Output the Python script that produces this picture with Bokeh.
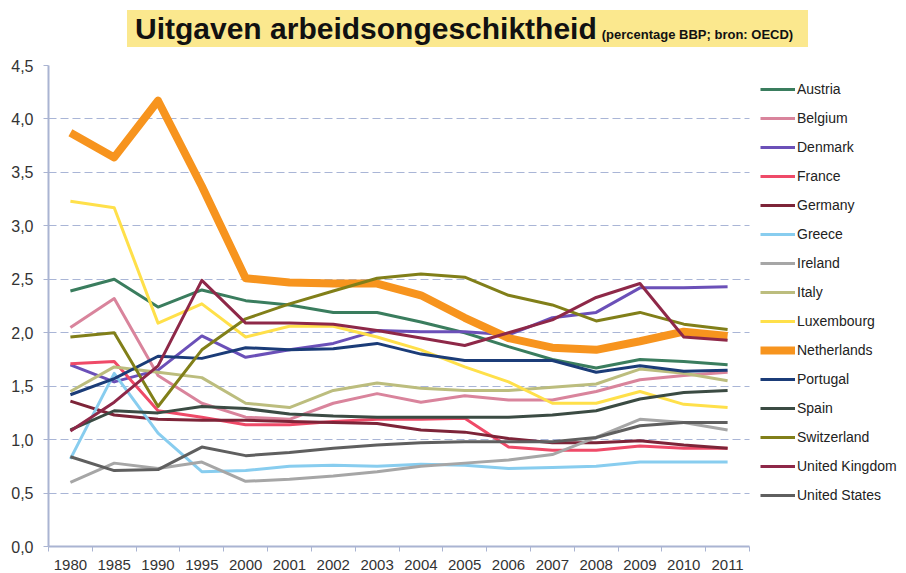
from bokeh.plotting import figure
from bokeh.models import (Range1d, FixedTicker, CustomJSTickFormatter, Legend,
                          LegendItem, Div)
from bokeh.layouts import column
from bokeh.embed import file_html
from bokeh.resources import INLINE

# ---------------- data ----------------
years = ["1980", "1985", "1990", "1995", "2000", "2001", "2002", "2003",
         "2004", "2005", "2006", "2007", "2008", "2009", "2010", "2011"]

austria = [2.39, 2.50, 2.24, 2.40, 2.30, 2.26, 2.19, 2.19, 2.10, 2.00, 1.87, 1.75, 1.67, 1.75, 1.73, 1.70]
belgium = [2.05, 2.32, 1.60, 1.34, 1.21, 1.19, 1.34, 1.43, 1.35, 1.41, 1.37, 1.37, 1.45, 1.56, 1.60, 1.63]
denmark = [1.70, 1.54, 1.65, 1.97, 1.77, 1.84, 1.90, 2.02, 2.01, 2.01, 1.98, 2.14, 2.19, 2.42, 2.42, 2.43]
france = [1.71, 1.73, 1.27, 1.21, 1.14, 1.14, 1.17, 1.19, 1.19, 1.20, 0.93, 0.90, 0.90, 0.94, 0.92, 0.92]
germany = [1.36, 1.23, 1.19, 1.18, 1.18, 1.17, 1.16, 1.15, 1.09, 1.07, 1.01, 0.97, 0.97, 0.99, 0.95, 0.92]
greece = [0.82, 1.62, 1.06, 0.70, 0.71, 0.75, 0.76, 0.75, 0.77, 0.76, 0.73, 0.74, 0.75, 0.79, 0.79, 0.79]
ireland = [0.60, 0.78, 0.73, 0.79, 0.61, 0.63, 0.66, 0.70, 0.75, 0.78, 0.81, 0.86, 1.02, 1.19, 1.16, 1.09]
italy = [1.45, 1.68, 1.63, 1.58, 1.34, 1.30, 1.46, 1.53, 1.48, 1.46, 1.46, 1.49, 1.52, 1.66, 1.62, 1.55]
luxembourg = [3.23, 3.17, 2.09, 2.27, 1.96, 2.06, 2.06, 1.96, 1.84, 1.68, 1.54, 1.34, 1.34, 1.45, 1.33, 1.30]
netherlands = [3.87, 3.64, 4.17, 3.37, 2.51, 2.47, 2.46, 2.46, 2.35, 2.14, 1.95, 1.86, 1.84, 1.92, 2.01, 1.97]
portugal = [1.42, 1.57, 1.78, 1.76, 1.86, 1.84, 1.85, 1.90, 1.80, 1.74, 1.74, 1.74, 1.63, 1.69, 1.64, 1.65]
spain = [1.09, 1.27, 1.25, 1.31, 1.29, 1.24, 1.22, 1.21, 1.21, 1.21, 1.21, 1.23, 1.27, 1.38, 1.44, 1.46]
switzerland = [1.96, 2.00, 1.31, 1.84, 2.13, 2.27, 2.39, 2.51, 2.55, 2.52, 2.35, 2.26, 2.11, 2.19, 2.08, 2.03]
united_kingdom = [1.08, 1.35, 1.69, 2.49, 2.09, 2.09, 2.08, 2.02, 1.95, 1.88, 2.00, 2.12, 2.33, 2.46, 1.96, 1.93]
united_states = [0.84, 0.71, 0.72, 0.93, 0.85, 0.88, 0.92, 0.95, 0.97, 0.98, 0.98, 0.98, 1.02, 1.13, 1.16, 1.16]

countries = ["Austria", "Belgium", "Denmark", "France", "Germany", "Greece", "Ireland",
             "Italy", "Luxembourg", "Netherlands", "Portugal", "Spain", "Switzerland",
             "United Kingdom", "United States"]
series = [austria, belgium, denmark, france, germany, greece, ireland, italy,
          luxembourg, netherlands, portugal, spain, switzerland, united_kingdom,
          united_states]
colors = ["#3a7d5e", "#d9849c", "#6b50b8", "#ef4a68", "#7d2438", "#88cdef", "#a6a6a6",
          "#bcbd7e", "#ffe04a", "#f7941e", "#1b3c78", "#3b4b43", "#817f19",
          "#8e2848", "#5f5f5f"]
widths = [3, 3, 3, 3, 3, 3, 3, 3, 3, 8, 3, 3, 3, 3, 3]

y_ticks = [0.0, 0.5, 1.0, 1.5, 2.0, 2.5, 3.0, 3.5, 4.0, 4.5]

# ---------------- figure ----------------
n = len(years)
xs = [i + 0.5 for i in range(n)]

FIG_W, LEFT, RIGHT = 906, 48, 8
plot_px = 701.0                      # pixel width of the data area
frame_px = FIG_W - LEFT - RIGHT      # frame continues under the legend
x_end = n * frame_px / plot_px

p = figure(width=FIG_W, height=525, output_backend="svg", toolbar_location=None,
           x_range=Range1d(0, x_end), y_range=Range1d(0, 4.5),
           min_border_left=LEFT, min_border_right=RIGHT, min_border_top=17,
           min_border_bottom=27)
p.outline_line_color = None
p.background_fill_color = "white"
p.border_fill_color = "white"

items = []
for name, vals, col, w in zip(countries, series, colors, widths):
    r = p.line(xs, vals, line_color=col, line_width=w, line_join="round")
    items.append(LegendItem(label=name, renderers=[r]))

# grid
p.xgrid.visible = False
p.ygrid.ticker = FixedTicker(ticks=y_ticks)
p.ygrid.grid_line_color = "#a9b5d6"
p.ygrid.grid_line_dash = "8 4"
p.ygrid.grid_line_width = 1
p.ygrid.cross_bounds = (0, n)

# y axis
p.yaxis.ticker = FixedTicker(ticks=y_ticks)
p.yaxis.formatter = CustomJSTickFormatter(code="return tick.toFixed(1).replace('.', ',');")
p.yaxis.axis_line_color = "#aab4d2"
p.yaxis.axis_line_width = 2
p.yaxis.major_tick_line_color = "#aab4d2"
p.yaxis.major_tick_out = 5
p.yaxis.major_tick_in = 0
p.yaxis.minor_tick_line_color = None
p.yaxis.major_label_standoff = 10
p.yaxis.major_label_text_font = "Liberation Sans"
p.yaxis.major_label_text_font_size = "16px"
p.yaxis.major_label_text_color = "#333333"

# x axis
p.xaxis.ticker = FixedTicker(ticks=xs, minor_ticks=list(range(n + 1)))
p.xaxis.bounds = (0, n)
p.xaxis.formatter = CustomJSTickFormatter(args=dict(labels=years),
                                          code="return labels[Math.round(tick - 0.5)];")
p.xaxis.axis_line_color = "#aab4d2"
p.xaxis.axis_line_width = 2
p.xaxis.major_tick_line_color = None
p.xaxis.major_tick_out = 0
p.xaxis.major_tick_in = 0
p.xaxis.minor_tick_line_color = "#aab4d2"
p.xaxis.minor_tick_out = 5
p.xaxis.minor_tick_in = 0
p.xaxis.major_label_standoff = 8
p.xaxis.major_label_text_font = "Liberation Sans"
p.xaxis.major_label_text_font_size = "15px"
p.xaxis.major_label_text_color = "#333333"

legend = Legend(items=items, location=(712, 39))
legend.border_line_color = None
legend.background_fill_alpha = 0
legend.padding = 0
legend.margin = 0
legend.spacing = 5
legend.glyph_width = 35
legend.glyph_height = 24
legend.label_height = 24
legend.label_standoff = 2
legend.label_text_font = "Liberation Sans"
legend.label_text_font_size = "14px"
legend.label_text_color = "#222222"
p.add_layout(legend)

title_html = (
    '<div style="position:relative;width:906px;height:48px;">'
    '<div style="position:absolute;left:127px;top:10px;width:681px;height:37px;'
    'background:#fbe88e;font-family:\'Liberation Sans\',Arial,sans-serif;'
    'font-weight:bold;white-space:nowrap;line-height:37px;color:#111111;">'
    '<span style="font-size:30px;margin-left:8px;">Uitgaven arbeidsongeschiktheid</span>'
    '<span style="font-size:13px;margin-left:5px;">(percentage BBP; bron: OECD)</span>'
    '</div></div>'
)
title_div = Div(text=title_html, width=906, height=48, margin=(0, 0, 0, 0))

layout = column(title_div, p, spacing=0)

open("out.html", "w").write(file_html(layout, INLINE))
